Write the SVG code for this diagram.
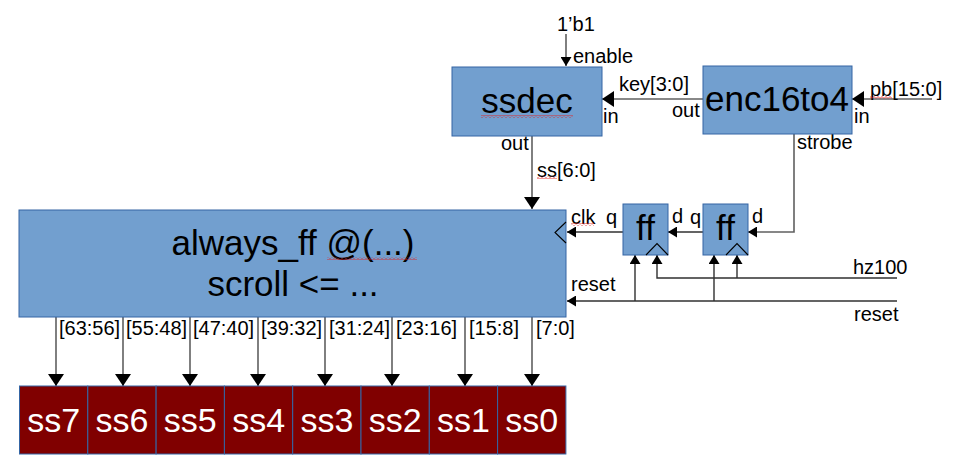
<svg xmlns="http://www.w3.org/2000/svg" width="956" height="476" viewBox="0 0 956 476">
<style>
text{font-family:"Liberation Sans",Arial,sans-serif;fill:#000}
.sm{font-size:20px}
.big{font-size:35px}
.ssl{font-size:34px}
.mid{text-anchor:middle}
.blk{fill:#729fcf;stroke:#3465a4;stroke-width:1}
.ssb{fill:#800000;stroke:#3465a4;stroke-width:1}
.wt{fill:#fff}
.ln{fill:none;stroke:#606060;stroke-width:1.6}
.lk{fill:none;stroke:#303030;stroke-width:1.4}
.ab{marker-end:url(#ab)}
.as{marker-end:url(#as)}
.sq{fill:url(#wave)}
.clkm{fill:none;stroke:#000;stroke-width:1.1}
</style>
<defs>
<marker id="ab" markerUnits="userSpaceOnUse" markerWidth="12" markerHeight="16" viewBox="0 0 12 16" refX="12" refY="8" orient="auto"><path d="M0,0L12,8L0,16z" fill="#000"/></marker>
<marker id="as" markerUnits="userSpaceOnUse" markerWidth="9" markerHeight="11" viewBox="0 0 9 11" refX="9" refY="5.5" orient="auto"><path d="M0,0L9,5.5L0,11z" fill="#000"/></marker>
<pattern id="wave" patternUnits="userSpaceOnUse" width="4" height="3"><path d="M0,2.5L2,0.5L4,2.5" fill="none" stroke="#e02020" stroke-width="0.9"/></pattern>
</defs>

<g id="connectors">
<line class="ln as" x1="566" y1="34" x2="566" y2="66"/>
<line class="ln ab" x1="703" y1="99" x2="602" y2="99"/>
<line class="ln ab" x1="932" y1="99" x2="852" y2="99"/>
<line class="ln ab" x1="532" y1="136" x2="532" y2="209"/>
<polyline class="ln as" points="794,134 794,232 748,232"/>
<line class="lk as" x1="703" y1="232" x2="668" y2="232"/>
<line class="lk as" x1="623" y1="232" x2="567" y2="232"/>
<line class="lk as" x1="897" y1="301" x2="567" y2="301"/>
<line class="lk as" x1="635" y1="301" x2="635" y2="255"/>
<line class="lk as" x1="714" y1="301" x2="714" y2="255"/>
<polyline class="lk as" points="897,278 657,278 657,255"/>
<line class="lk as" x1="737" y1="278" x2="737" y2="255"/>
<line class="ln ab" x1="56" y1="317" x2="56" y2="386"/>
<line class="ln ab" x1="123" y1="317" x2="123" y2="386"/>
<line class="ln ab" x1="190" y1="317" x2="190" y2="386"/>
<line class="ln ab" x1="258" y1="317" x2="258" y2="386"/>
<line class="ln ab" x1="325" y1="317" x2="325" y2="386"/>
<line class="ln ab" x1="392" y1="317" x2="392" y2="386"/>
<line class="ln ab" x1="465" y1="317" x2="465" y2="386"/>
<line class="ln ab" x1="532" y1="317" x2="532" y2="386"/>
</g>

<g id="labels">
<text class="sm" x="557" y="31">1’b1</text>
<text class="sm" x="573" y="63">enable</text>
<text class="sm" x="619" y="91">key[3:0]</text>
<text class="sm" x="672" y="117">out</text>
<text class="sm" x="603" y="123">in</text>
<text class="sm" x="870" y="96">pb[15:0]</text>
<rect class="sq" x="870" y="96" width="22" height="3"/>
<text class="sm" x="854" y="123">in</text>
<text class="sm" x="501" y="150">out</text>
<text class="sm" x="797" y="149">strobe</text>
<text class="sm" x="537" y="177">ss[6:0]</text>
<rect class="sq" x="537" y="176" width="20" height="3"/>
<text class="sm" x="571" y="224">clk</text>
<rect class="sq" x="571" y="223" width="23" height="3"/>
<text class="sm" x="606" y="224">q</text>
<text class="sm" x="672" y="223">d</text>
<text class="sm" x="690" y="224">q</text>
<text class="sm" x="752" y="223">d</text>
<text class="sm" x="853" y="274">hz100</text>
<text class="sm" x="571" y="291">reset</text>
<text class="sm" x="854" y="321">reset</text>
<text class="sm" x="59" y="335">[63:56]</text>
<text class="sm" x="126" y="335">[55:48]</text>
<text class="sm" x="193" y="335">[47:40]</text>
<text class="sm" x="261" y="335">[39:32]</text>
<text class="sm" x="329" y="335">[31:24]</text>
<text class="sm" x="396" y="335">[23:16]</text>
<text class="sm" x="469" y="335">[15:8]</text>
<text class="sm" x="536" y="335">[7:0]</text>
</g>

<g id="ssdec">
<rect class="blk" x="452" y="67" width="150" height="69"/>
<text class="big mid" x="527" y="113">ssdec</text>
<rect class="sq" x="481" y="115" width="92" height="3"/>
</g>

<g id="enc16to4">
<rect class="blk" x="703" y="66" width="149" height="68"/>
<text class="big mid" x="777" y="111">enc16to4</text>
</g>

<g id="always_ff">
<rect class="blk" x="19" y="210" width="547" height="107"/>
<text class="big mid" x="293" y="255">always_ff @(...)</text>
<rect class="sq" x="327" y="257" width="90" height="3"/>
<text class="big mid" x="293" y="296">scroll &lt;= ...</text>
<polyline class="clkm" points="566,222 555,232.5 566,243"/>
</g>

<g id="ff1">
<rect class="blk" x="623" y="204" width="45" height="51"/>
<text class="big mid" x="645.5" y="240">ff</text>
<polyline class="clkm" points="646,255 657,243.5 668,255"/>
</g>

<g id="ff2">
<rect class="blk" x="703" y="204" width="45" height="51"/>
<text class="big mid" x="725.5" y="240">ff</text>
<polyline class="clkm" points="726,255 737,243.5 748,255"/>
</g>

<g id="ss7"><rect class="ssb" x="19.5" y="386" width="68.3" height="68"/><text class="ssl mid wt" x="53.6" y="432">ss7</text></g>
<g id="ss6"><rect class="ssb" x="87.8" y="386" width="68.3" height="68"/><text class="ssl mid wt" x="122" y="432">ss6</text></g>
<g id="ss5"><rect class="ssb" x="156.1" y="386" width="68.3" height="68"/><text class="ssl mid wt" x="190.3" y="432">ss5</text></g>
<g id="ss4"><rect class="ssb" x="224.4" y="386" width="68.3" height="68"/><text class="ssl mid wt" x="258.6" y="432">ss4</text></g>
<g id="ss3"><rect class="ssb" x="292.7" y="386" width="68.3" height="68"/><text class="ssl mid wt" x="326.9" y="432">ss3</text></g>
<g id="ss2"><rect class="ssb" x="361" y="386" width="68.3" height="68"/><text class="ssl mid wt" x="395.2" y="432">ss2</text></g>
<g id="ss1"><rect class="ssb" x="429.3" y="386" width="68.3" height="68"/><text class="ssl mid wt" x="463.5" y="432">ss1</text></g>
<g id="ss0"><rect class="ssb" x="497.6" y="386" width="68.3" height="68"/><text class="ssl mid wt" x="531.8" y="432">ss0</text></g>
</svg>
